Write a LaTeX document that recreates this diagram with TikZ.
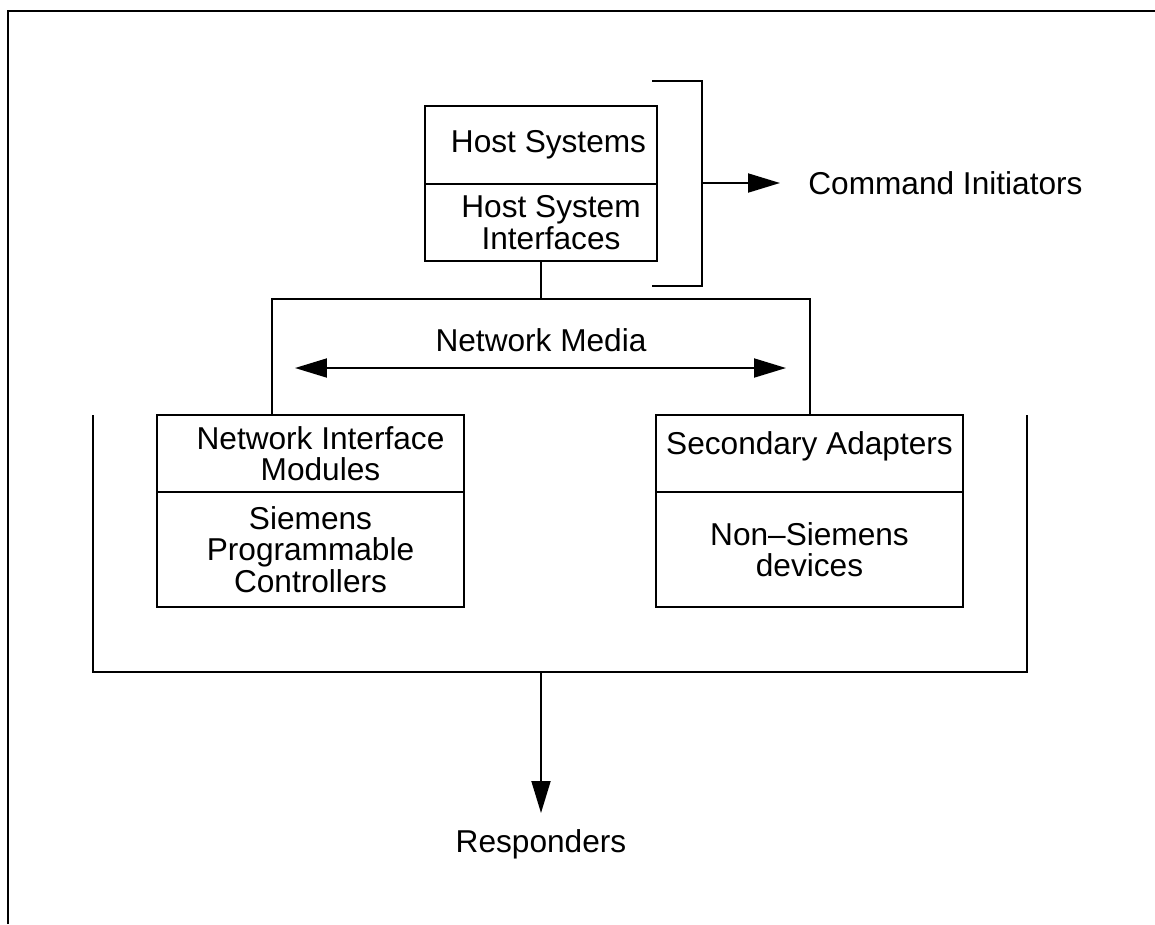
\documentclass[tikz,border=0pt]{standalone}
\usepackage{fontspec}
\setmainfont{Liberation Sans}
\usetikzlibrary{arrows.meta}
\tikzstyle{part}=[draw,rectangle,line width=1.1pt,inner sep=0pt,align=center,minimum width=4.64cm,font=\fontsize{18}{18}\selectfont]
\tikzstyle{caption}=[inner sep=0pt,font=\fontsize{18}{18}\selectfont]
\tikzstyle{wire}=[line width=1.1pt]
\tikzstyle{tip}=[-{Triangle[length=0.64cm,width=0.38cm]}]

\begin{document}
\begin{tikzpicture}[x=0.02cm,y=-0.02cm]
  \useasboundingbox (0,0) rectangle (1155,924);
% frame
  \draw[line width=1.6pt] (8,924) -- (8,11) -- (1155,11);
% host side
  \node[part,minimum height=1.56cm] (host) at (541,145) {\hspace*{0.3cm}Host Systems};
  \node[part,minimum height=1.54cm] (hostif) at (541,222.5) {\hspace*{0.4cm}Host System\\\hspace*{0.4cm}Interfaces};
  \draw[wire] (652,81) -- (702,81) -- (702,286) -- (652,286);
  \coordinate (brM) at (702,183);
  \node[caption,anchor=west,inner xsep=0.56cm] (cmd) at (780,183) {Command Initiators};
  \draw[wire,tip] (brM) -- (cmd.west);
% network
  \coordinate (busL) at (272,299);
  \coordinate (busR) at (810,299);
  \node[caption] (media) at (541,340) {Network Media};
  \coordinate (mediaL) at (295,368);
  \coordinate (mediaR) at (786,368);
  \draw[wire,{Triangle[length=0.64cm,width=0.38cm]}-{Triangle[length=0.64cm,width=0.38cm]}] (mediaL) -- (mediaR);
% responders
  \node[part,minimum width=6.14cm,minimum height=1.54cm] (nim) at (310.5,453.5) {\hspace*{0.4cm}Network Interface\\\hspace*{0.4cm}Modules};
  \node[part,minimum width=6.14cm,minimum height=2.3cm] (spc) at (310.5,549.5) {Siemens\\Programmable\\Controllers};
  \node[part,minimum width=6.14cm,minimum height=1.54cm] (sa) at (809.5,453.5) {Secondary Adapters\\[-0.23cm]};
  \node[part,minimum width=6.14cm,minimum height=2.3cm] (nsd) at (809.5,549.5) {Non–Siemens\\devices};
  \draw[wire] (hostif.south) -- (hostif.south |- busL);
  \draw[wire] (busL |- nim.north) -- (busL) -- (busR) -- (busR |- sa.north);
  \draw[wire] (93,415) -- (93,672) -- (1027,672) -- (1027,415);
  \coordinate (rbot) at (541,672);
  \node[caption,anchor=north,inner sep=0.32cm] (resp) at (541,813) {Responders};
  \draw[wire,tip] (rbot) -- (resp.north);
\end{tikzpicture}
\end{document}
